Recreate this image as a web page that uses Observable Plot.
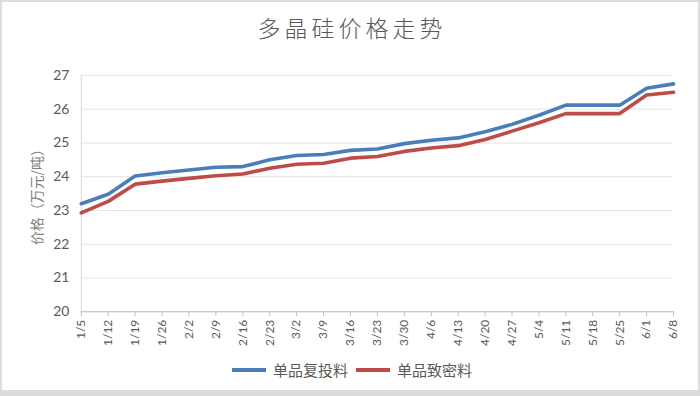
<!DOCTYPE html>
<html>
<head>
<meta charset="utf-8">
<script src="https://cdn.jsdelivr.net/npm/d3@7"></script>
<script src="https://cdn.jsdelivr.net/npm/@observablehq/plot@0.6"></script>
<style>
  html, body { margin: 0; padding: 0; background: #fff; }
  #wrap { position: relative; width: 700px; height: 396px; box-sizing: border-box;
          border: 2px solid #dcdcdc; border-bottom: 6px solid #dcdcdc; overflow: hidden; background: #fff; }
  #title { position: absolute; left: 0; top: 8px; width: 700px; text-align: center;
           font-family: "Noto Sans CJK SC", sans-serif; font-weight: 300; font-size: 23px;
           letter-spacing: 4px; color: #595959; }
  #chart { position: absolute; left: -2px; top: 53px; }
  #legend { position: absolute; top: 357px; left: 0; width: 700px; display: flex; justify-content: center;
            align-items: center; font-family: "Noto Sans CJK SC", sans-serif; font-size: 15px; color: #595959; }
  .item { display: flex; align-items: center; margin: 0 4px; }
  .sw { width: 34px; height: 4px; margin-right: 7px; }
</style>
</head>
<body>
<div id="wrap">
  <div id="title">多晶硅价格走势</div>
  <div id="chart"></div>
  <div id="legend"></div>
</div>
<script>
const dates = ["1/5","1/12","1/19","1/26","2/2","2/9","2/16","2/23","3/2","3/9","3/16","3/23","3/30","4/6","4/13","4/20","4/27","5/4","5/11","5/18","5/25","6/1","6/8"];
const fuTou = [23.2,23.48,24.02,24.12,24.2,24.28,24.3,24.5,24.63,24.66,24.78,24.82,24.98,25.08,25.15,25.33,25.55,25.82,26.12,26.12,26.12,26.62,26.75];
const zhiMi = [22.93,23.27,23.78,23.87,23.95,24.03,24.08,24.25,24.37,24.4,24.55,24.6,24.75,24.85,24.92,25.1,25.35,25.6,25.87,25.87,25.87,26.42,26.5];
const seriesNames = ["单品复投料","单品致密料"];
const colors = ["#4a7ebb","#be4b48"];
const yTicks = [20,21,22,23,24,25,26,27];

const data = [];
dates.forEach((d,i) => {
  data.push({date: d, value: fuTou[i], s: seriesNames[0]});
  data.push({date: d, value: zhiMi[i], s: seriesNames[1]});
});

const chart = Plot.plot({
  width: 700,
  height: 298,
  marginTop: 20,
  marginBottom: 41,
  marginLeft: 81,
  marginRight: 25,
  style: {fontFamily: "Lato, 'Open Sans', sans-serif", color: "#595959", background: "transparent"},
  x: {type: "point", domain: dates, padding: 0},
  y: {domain: [20, 27]},
  color: {domain: seriesNames, range: colors},
  marks: [
    Plot.gridY(yTicks, {stroke: "#e4e4e4", strokeOpacity: 1, strokeWidth: 1}),
    Plot.ruleY([20], {stroke: "#bfbfbf"}),
    Plot.ruleX([dates[0]], {y1: 20, y2: 27, stroke: "#d9d9d9"}),
    Plot.axisY(yTicks, {tickSize: 0, tickPadding: 12, fontSize: 14, fill: "#595959", label: null, tickFormat: d => d}),
    Plot.axisX({tickSize: 5, tickRotate: -90, tickPadding: 3, fontSize: 12, fill: "#595959", stroke: "#bfbfbf", label: null}),
    Plot.text(["价格（万元/吨）"], {frameAnchor: "left", textAnchor: "middle", dx: -44, rotate: -90, fontSize: 14, fill: "#7f7f7f", fontFamily: "Noto Sans CJK SC", text: d => d}),
    Plot.line(data, {x: "date", y: "value", z: "s", stroke: "s", strokeWidth: 3.6, strokeLinejoin: "round"})
  ]
});
document.getElementById("chart").appendChild(chart);

const legend = document.getElementById("legend");
seriesNames.forEach((n, i) => {
  const it = document.createElement("div");
  it.className = "item";
  it.innerHTML = `<span class="sw" style="background:${colors[i]}"></span><span>${n}</span>`;
  legend.appendChild(it);
});
</script>
</body>
</html>
